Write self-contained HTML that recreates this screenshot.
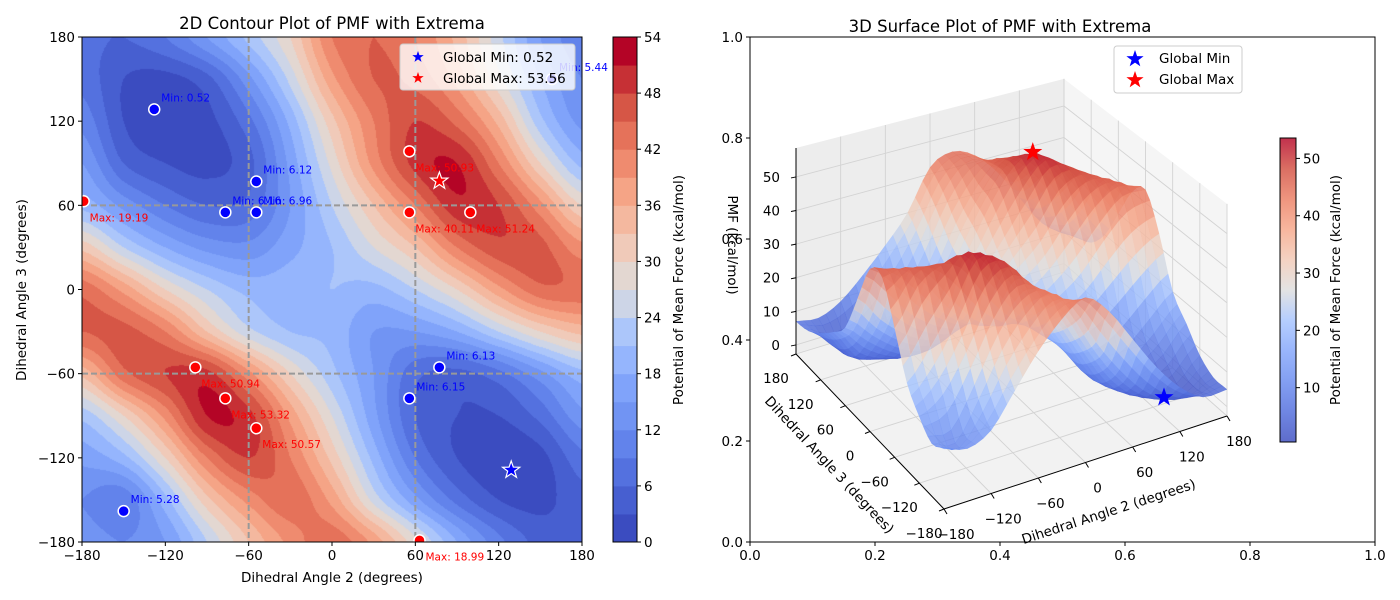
<!DOCTYPE html>
<html><head><meta charset="utf-8"><style>
body{margin:0;background:#fff}
#wrap{position:relative;width:1400px;height:600px;font-family:"DejaVu Sans","Liberation Sans",sans-serif}
svg text{font-family:"DejaVu Sans","Liberation Sans",sans-serif}
</style></head><body>
<div id="wrap">
<canvas id="cv" width="500" height="505" style="position:absolute;left:82px;top:37px"></canvas>
<svg id="sv" width="1400" height="600" style="position:absolute;left:0;top:0" xmlns="http://www.w3.org/2000/svg"></svg>
</div>
<script>
// PMF grid, x = -180..180 step 30 (columns), y = 180 .. -180 step 30 (rows)
const pmfRows = [
[7,6,9,15,22,30,42,45,42,35,25,15,10],
[8,3,2,5,14,25,38,45,44,38,28,18,12],
[11,3,1,2,8,19,32,42,48,44,35,22,14],
[15,6,3,2,5,16,28,40,49,51,42,30,20],
[20,14,9,6,7,15,24,33,42,50,48,40,30],
[32,24,18,14,13,17,21,27,33,42,47,46,40],
[44,38,30,24,20,20,21,20,24,30,38,44,44],
[45,46,42,33,25,21,20,15,15,18,24,30,34],
[34,44,48,49,40,30,22,15,7,5,8,14,20],
[22,30,40,51,49,38,27,16,6,3,3,7,14],
[16,20,30,42,48,42,32,20,9,3,1,2,8],
[12,10,20,32,40,44,38,26,16,8,3,2,5],
[14,12,15,24,33,40,44,38,28,18,10,5,5]
];
const xTicks = [-180,-120,-60,0,60,120,180];
const yTicks = [-180,-120,-60,0,60,120,180];
const cbTicks = [0,6,12,18,24,30,36,42,48,54];
const minX = [-128,-54.5,-76.8,-54.5,77.3,55.7,-150,158.4];
const minY = [128.4,77,55,55,-55.5,-77.6,-158,150];
const minLabels = ["Min: 0.52","Min: 6.12","Min: 6.16","Min: 6.96","Min: 6.13","Min: 6.15","Min: 5.28","Min: 5.44"];
const maxX = [55.7,99.6,55.7,-178.8,-98.4,-76.8,-54.5,63];
const maxY = [98.5,55,55,62.9,-55.5,-77.6,-98.9,-178.8];
const maxLabels = ["Max: 50.93","Max: 51.24","Max: 40.11","Max: 19.19","Max: 50.94","Max: 53.32","Max: 50.57","Max: 18.99"];
const globalMin = [129,-128.7,0.52];
const globalMax = [77.3,77.4,53.56];
const zTicks = [0,10,20,30,40,50];
const cb2Ticks = [10,20,30,40,50];

const NS='http://www.w3.org/2000/svg';
const svg=document.getElementById('sv');
function mk(tag,attrs,parent,text){const e=document.createElementNS(NS,tag);for(const k in attrs)e.setAttribute(k,attrs[k]);if(text!=null)e.textContent=text;(parent||svg).appendChild(e);return e;}
const cmapStops=[[0,59,76,192],[0.1,80,108,220],[0.2,104,138,239],[0.3,130,165,251],[0.4,165,195,254],[0.5,221,221,221],[0.6,242,200,180],[0.7,246,166,136],[0.8,235,125,98],[0.9,210,78,64],[1,180,4,38]];
function cmap(t){t=Math.max(0,Math.min(1,t));for(let i=0;i<cmapStops.length-1;i++){const a=cmapStops[i],b=cmapStops[i+1];if(t<=b[0]){const f=(t-a[0])/(b[0]-a[0]);return [0,1,2].map(k=>Math.round(a[k+1]+(b[k+1]-a[k+1])*f));}}return [180,4,38];}
function rgb(c){return 'rgb('+c[0]+','+c[1]+','+c[2]+')';}
function cr(p0,p1,p2,p3,t){return 0.5*(2*p1+(-p0+p2)*t+(2*p0-5*p1+4*p2-p3)*t*t+(-p0+3*p1-3*p2+p3)*t*t*t);}
function G(r,c){r=Math.max(0,Math.min(12,r));c=Math.max(0,Math.min(12,c));return pmfRows[r][c];}
function pmf(x,y){const gx=(x+180)/30,gy=(180-y)/30;let i=Math.min(11,Math.floor(gx)),j=Math.min(11,Math.floor(gy));const tx=gx-i,ty=gy-j;const r=[];for(let k=-1;k<=2;k++){r.push(cr(G(j+k,i-1),G(j+k,i),G(j+k,i+1),G(j+k,i+2),tx));}return cr(r[0],r[1],r[2],r[3],ty);}

// ---------- 2D contour ----------
const bandCols=[];for(let b=0;b<18;b++)bandCols.push(cmap(b/17));
const ctx=document.getElementById('cv').getContext('2d');
const img=ctx.createImageData(500,505);
for(let py=0;py<505;py++)for(let px=0;px<500;px++){const xd=-180+(px+0.5)/500*360,yd=180-(py+0.5)/505*360;let b=Math.floor(pmf(xd,yd)/3);b=Math.max(0,Math.min(17,b));const c=bandCols[b],o=(py*500+px)*4;img.data[o]=c[0];img.data[o+1]=c[1];img.data[o+2]=c[2];img.data[o+3]=255;}
ctx.putImageData(img,0,0);

const X2=v=>82+(v+180)/360*500, Y2=v=>542-(v+180)/360*505;
function starPts(cx,cy,R){const p=[];for(let i=0;i<10;i++){const r=i%2?R*0.4:R;const a=-Math.PI/2+i*Math.PI/5;p.push((cx+r*Math.cos(a)).toFixed(1)+','+(cy+r*Math.sin(a)).toFixed(1));}return p.join(' ');}
const g2=mk('g',{});


[-60,60].forEach(v=>{
 const lv=mk('line',{x1:X2(v),x2:X2(v),y1:37,y2:542,stroke:'#999','stroke-width':2,"stroke-dasharray":'6,3'},g2);
 
 
 const lh=mk('line',{x1:82,x2:582,y1:Y2(v),y2:Y2(v),stroke:'#999','stroke-width':2,"stroke-dasharray":'6,3'},g2);
 
 
});
const clipD=mk('defs',{});const cp=mk('clipPath',{id:'c2'},clipD);mk('rect',{x:82,y:37,width:500,height:505},cp);
const mg=mk('g',{'clip-path':'url(#c2)'},g2);
for(let i=0;i<minX.length;i++){
 const c=mk('circle',{cx:X2(minX[i]),cy:Y2(minY[i]),r:5.5,fill:'#0000ff',stroke:'#fff','stroke-width':1.5},mg);
 
 
}
for(let i=0;i<maxX.length;i++){
 const c=mk('circle',{cx:X2(maxX[i]),cy:Y2(maxY[i]),r:5.5,fill:'#ff0000',stroke:'#fff','stroke-width':1.5},mg);
 
 
}
for(let i=0;i<minX.length;i++){
 const t=mk('text',{x:X2(minX[i])+7,y:Y2(minY[i])-8,fill:'#0000ff','font-size':10.5},g2,minLabels[i]);
 
 
}
for(let i=0;i<maxX.length;i++){
 const t=mk('text',{x:X2(maxX[i])+6,y:Y2(maxY[i])+20,fill:'#ff0000','font-size':10.5},g2,maxLabels[i]);
 
 
}
const s1=mk('polygon',{points:starPts(X2(globalMin[0]),Y2(globalMin[1]),9),fill:'#0000ff',stroke:'#fff','stroke-width':1.2},g2);


const s2=mk('polygon',{points:starPts(X2(globalMax[0]),Y2(globalMax[1]),9),fill:'#ff0000',stroke:'#fff','stroke-width':1.2},g2);


const fr=mk('rect',{x:82,y:37,width:500,height:505,fill:'none',stroke:'#000','stroke-width':1},g2);


xTicks.forEach(v=>{
 mk('line',{x1:X2(v),x2:X2(v),y1:542,y2:546,stroke:'#000'},g2);
 const t=mk('text',{x:X2(v),y:560,'font-size':13.5,'text-anchor':'middle'},g2,String(v).replace('-','\u2212'));
 
 
});
yTicks.forEach(v=>{
 mk('line',{x1:78,x2:82,y1:Y2(v),y2:Y2(v),stroke:'#000'},g2);
 const t=mk('text',{x:75,y:Y2(v)+5,'font-size':13.5,'text-anchor':'end'},g2,String(v).replace('-','\u2212'));
 
 
});
let t0=mk('text',{x:332,y:582,'font-size':13.5,'text-anchor':'middle'},g2,'Dihedral Angle 2 (degrees)');


t0=mk('text',{x:0,y:0,'font-size':13.5,'text-anchor':'middle',transform:'translate(26,290) rotate(-90)'},g2,'Dihedral Angle 3 (degrees)');


t0=mk('text',{x:332,y:29,'font-size':16.5,'text-anchor':'middle'},g2,'2D Contour Plot of PMF with Extrema');


// legend
const lg=mk('g',{},g2);


mk('rect',{x:400,y:44,width:175,height:46,rx:3,fill:'rgba(255,255,255,0.8)',stroke:'#ccc'},lg);
mk('polygon',{points:starPts(418,57,6),fill:'#0000ff'},lg);
mk('polygon',{points:starPts(418,78,6),fill:'#ff0000'},lg);
t0=mk('text',{x:443,y:62,'font-size':13.5},lg,'Global Min: 0.52');


t0=mk('text',{x:443,y:83,'font-size':13.5},lg,'Global Max: 53.56');


// colorbar 1
const cb=mk('g',{});


const CBY=v=>542-v/54*505;
for(let b=0;b<18;b++){
 const r=mk('rect',{x:613,y:CBY(b*3+3),width:24,height:505/18+0.5,fill:rgb(bandCols[b])},cb);
 
 
}
mk('rect',{x:613,y:37,width:24,height:505,fill:'none',stroke:'#000'},cb);
cbTicks.forEach(v=>{mk('line',{x1:637,x2:641,y1:CBY(v),y2:CBY(v),stroke:'#000'},cb);
 const t=mk('text',{x:644,y:CBY(v)+5,'font-size':13.5},cb,String(v));
 
 });
t0=mk('text',{x:0,y:0,'font-size':13.5,'text-anchor':'middle',transform:'translate(683,290) rotate(-90)'},cb,'Potential of Mean Force (kcal/mol)');



// ---------- 3D panel ----------
const g3=mk('g',{});


const fr3=mk('rect',{x:750,y:37,width:625,height:505,fill:'none',stroke:'#000'},g3);


[0,0.2,0.4,0.6,0.8,1.0].forEach((v,i)=>{
 const x=750+v*625,y=542-v*505;
 mk('line',{x1:x,x2:x,y1:542,y2:546,stroke:'#000'},g3);
 let t=mk('text',{x:x,y:560,'font-size':13.5,'text-anchor':'middle'},g3,v.toFixed(1));
 
 
 mk('line',{x1:746,x2:750,y1:y,y2:y,stroke:'#000'},g3);
 t=mk('text',{x:743,y:y+5,'font-size':13.5,'text-anchor':'end'},g3,v.toFixed(1));
 
 
});
t0=mk('text',{x:1000,y:32,'font-size':16.5,'text-anchor':'middle'},g3,'3D Surface Plot of PMF with Extrema');


const Fc=[944,509],Rc=[1227,416],Lc=[796,354],Bc=[1064,272];
const sF=3.6,sR=3.46,sL=3.36,sB=3.15,zFl=-2.7,zTop=58.6;
function P(x,y,z){const u=(x+180)/360,v=(y+180)/360;const wF=(1-u)*(1-v),wR=u*(1-v),wL=(1-u)*v,wB=u*v;
 const X=Fc[0]*wF+Rc[0]*wR+Lc[0]*wL+Bc[0]*wB;const Y=Fc[1]*wF+Rc[1]*wR+Lc[1]*wL+Bc[1]*wB;const s=sF*wF+sR*wR+sL*wL+sB*wB;return [X,Y-(z-zFl)*s];}
const pt=a=>a[0].toFixed(1)+','+a[1].toFixed(1);
function poly(pts,attrs,parent){attrs.points=pts.map(pt).join(' ');return mk('polygon',attrs,parent);}
function ln(a,b,attrs,parent){attrs.x1=a[0];attrs.y1=a[1];attrs.x2=b[0];attrs.y2=b[1];return mk('line',attrs,parent);}
let e=poly([P(-180,-180,zFl),P(180,-180,zFl),P(180,180,zFl),P(-180,180,zFl)],{fill:'#f2f2f2'},g3);


e=poly([P(-180,180,zFl),P(180,180,zFl),P(180,180,zTop),P(-180,180,zTop)],{fill:'#ededed'},g3);


e=poly([P(180,-180,zFl),P(180,180,zFl),P(180,180,zTop),P(180,-180,zTop)],{fill:'#f5f5f5'},g3);


const gs={stroke:'#d3d3d3','stroke-width':0.9};
xTicks.forEach(v=>{ln(P(v,-180,zFl),P(v,180,zFl),{...gs},g3);ln(P(v,180,zFl),P(v,180,zTop),{...gs},g3);});
yTicks.forEach(v=>{ln(P(-180,v,zFl),P(180,v,zFl),{...gs},g3);ln(P(180,v,zFl),P(180,v,zTop),{...gs},g3);});
zTicks.forEach(v=>{ln(P(-180,180,v),P(180,180,v),{...gs},g3);ln(P(180,-180,v),P(180,180,v),{...gs},g3);});
// surface
const sg=mk('g',{},g3);


const N=36,st=360/N;const Z=[];
for(let i=0;i<=N;i++){Z.push([]);for(let j=0;j<=N;j++)Z[i].push(pmf(-180+i*st,-180+j*st));}
const quads=[];
for(let i=0;i<N;i++)for(let j=0;j<N;j++){const u=(i+0.5)/N,v=(j+0.5)/N;quads.push({i,j,d:0.37*u+0.63*v,z:(Z[i][j]+Z[i+1][j]+Z[i][j+1]+Z[i+1][j+1])/4});}
quads.sort((a,b)=>b.d-a.d);
quads.forEach(q=>{const x0=-180+q.i*st,y0=-180+q.j*st;
 const c=rgb(cmap((q.z-0.52)/53.04));
 const p=poly([P(x0,y0,Z[q.i][q.j]),P(x0+st,y0,Z[q.i+1][q.j]),P(x0+st,y0+st,Z[q.i+1][q.j+1]),P(x0,y0+st,Z[q.i][q.j+1])],{fill:c,'fill-opacity':0.82,stroke:c,'stroke-opacity':0.5,'stroke-width':0.4},sg);
 
 
});
let pm=P(globalMax[0],globalMax[1],globalMax[2]);
e=mk('polygon',{points:starPts(pm[0],pm[1],10),fill:'#ff0000'},g3);


pm=P(globalMin[0],globalMin[1],globalMin[2]);
e=mk('polygon',{points:starPts(pm[0],pm[1],10),fill:'#0000ff'},g3);


// axes
ln(P(-180,-180,zFl),P(180,-180,zFl),{stroke:'#000','stroke-width':1},g3);
ln(P(-180,-180,zFl),P(-180,180,zFl),{stroke:'#000','stroke-width':1},g3);
ln(P(-180,180,zFl),P(-180,180,zTop),{stroke:'#000','stroke-width':1},g3);
xTicks.forEach(v=>{const a=P(v,-180,zFl);mk('line',{x1:a[0],y1:a[1],x2:a[0]+3,y2:a[1]+5,stroke:'#000'},g3);
 const t=mk('text',{x:a[0]+12,y:a[1]+30,'font-size':13.5,'text-anchor':'middle'},g3,String(v).replace('-','\u2212'));
 
 });
yTicks.forEach(v=>{const a=P(-180,v,zFl);mk('line',{x1:a[0],y1:a[1],x2:a[0]-5,y2:a[1]+2,stroke:'#000'},g3);
 const t=mk('text',{x:a[0]-20,y:a[1]+29,'font-size':13.5,'text-anchor':'middle'},g3,String(v).replace('-','\u2212'));
 
 });
zTicks.forEach(v=>{const a=P(-180,180,v);mk('line',{x1:a[0],y1:a[1],x2:a[0]-5,y2:a[1]+1,stroke:'#000'},g3);
 const t=mk('text',{x:a[0]-16,y:a[1]+5,'font-size':13.5,'text-anchor':'end'},g3,String(v));
 
 });
t0=mk('text',{x:0,y:0,'font-size':13.5,'text-anchor':'middle',transform:'translate(1110,516) rotate(-18)'},g3,'Dihedral Angle 2 (degrees)');


t0=mk('text',{x:0,y:0,'font-size':13.5,'text-anchor':'middle',transform:'translate(826,468) rotate(47)'},g3,'Dihedral Angle 3 (degrees)');


t0=mk('text',{x:0,y:0,'font-size':13.5,'text-anchor':'middle',transform:'translate(728,245) rotate(90)'},g3,'PMF (kcal/mol)');


// legend right
const lg2=mk('g',{},g3);


mk('rect',{x:1114,y:46,width:128,height:47,rx:3,fill:'rgba(255,255,255,0.8)',stroke:'#ccc'},lg2);
mk('polygon',{points:starPts(1135,59,9),fill:'#0000ff'},lg2);
mk('polygon',{points:starPts(1135,80,9),fill:'#ff0000'},lg2);
t0=mk('text',{x:1159,y:63,'font-size':13.5},lg2,'Global Min');


t0=mk('text',{x:1159,y:84,'font-size':13.5},lg2,'Global Max');


// colorbar 2
const cb2=mk('g',{});


const df=mk('defs',{},cb2);const lgd=mk('linearGradient',{id:'cg',x1:0,y1:1,x2:0,y2:0},df);
for(let k=0;k<=10;k++){mk('stop',{offset:k/10,'stop-color':rgb(cmap(k/10))},lgd);}
mk('rect',{x:1280,y:138,width:16,height:304,fill:'url(#cg)','fill-opacity':0.82},cb2);
mk('rect',{x:1280,y:138,width:16,height:304,fill:'none',stroke:'#000'},cb2);
const CB2=v=>442-(v-0.52)/53.04*304;
cb2Ticks.forEach(v=>{mk('line',{x1:1296,x2:1300,y1:CB2(v),y2:CB2(v),stroke:'#000'},cb2);
 const t=mk('text',{x:1303,y:CB2(v)+5,'font-size':13.5},cb2,String(v));
 
 });
t0=mk('text',{x:0,y:0,'font-size':13.5,'text-anchor':'middle',transform:'translate(1340,290) rotate(-90)'},cb2,'Potential of Mean Force (kcal/mol)');


</script>
</body></html>
